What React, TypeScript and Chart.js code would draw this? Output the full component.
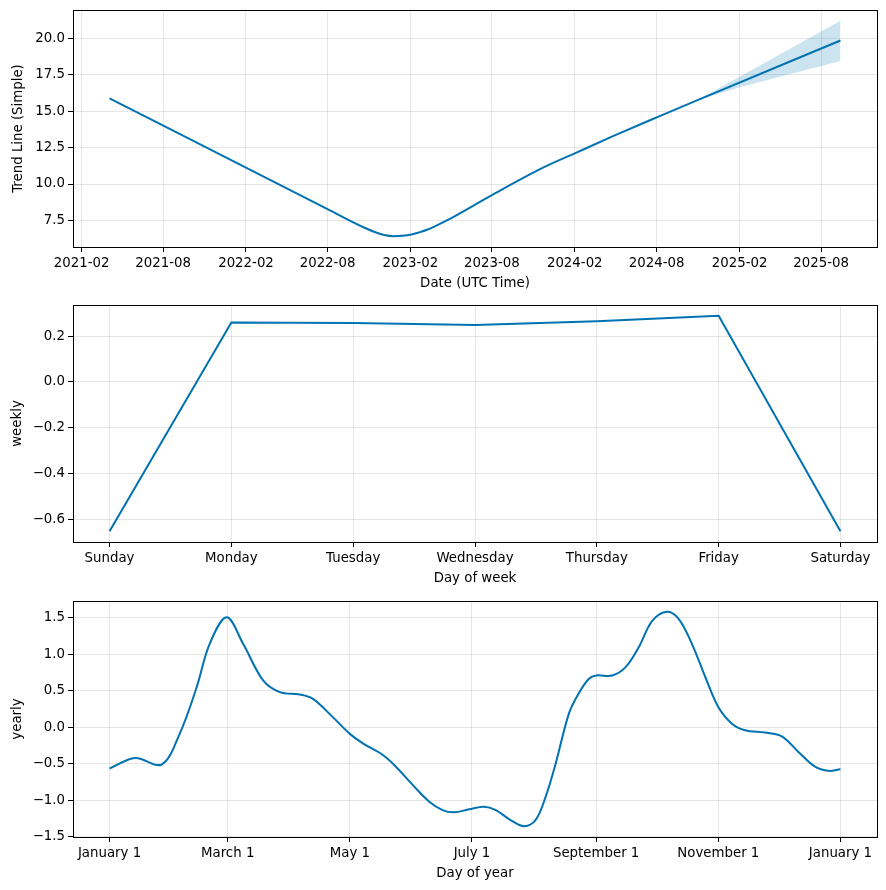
import React, { useEffect, useRef } from 'react';
import { Chart, registerables } from 'chart.js';

Chart.register(...registerables);

// ---------- data ----------
const trendDates = [
  '2021-04-04', '2022-07-31', '2022-10-21', '2022-11-20', '2022-12-05', '2022-12-26',
  '2023-01-15', '2023-02-01', '2023-02-20', '2023-03-10', '2023-03-25', '2023-04-23',
  '2023-08-01', '2023-11-16', '2024-02-01', '2024-04-26', '2024-08-01', '2024-10-28',
  '2025-09-13',
];
const trendValues = [
  15.87, 8.30, 7.02, 6.64, 6.50, 6.42,
  6.45, 6.52, 6.68, 6.86, 7.06, 7.50,
  9.24, 11.02, 12.10, 13.28, 14.57, 15.72,
  19.84,
];
const bandDates = ['2024-10-28', '2025-02-01', '2025-09-13'];
const bandUpper = [15.72, 17.36, 21.19];
const bandLower = [15.72, 16.63, 18.44];
const trendTickDates = ['2021-02-01', '2021-08-01', '2022-02-01', '2022-08-01', '2023-02-01',
  '2023-08-01', '2024-02-01', '2024-08-01', '2025-02-01', '2025-08-01'];
const trendYTicks = [7.5, 10, 12.5, 15, 17.5, 20];

const weekDays = ['Sunday', 'Monday', 'Tuesday', 'Wednesday', 'Thursday', 'Friday', 'Saturday'];
const weeklyValues = [-0.653, 0.26, 0.257, 0.249, 0.265, 0.289, -0.653];
const weeklyYTicks = [-0.6, -0.4, -0.2, 0, 0.2];

const yearDays = [0, 12.8, 26, 35, 43.5, 50, 58.5, 66.7, 76.7, 85, 95, 101.6, 111.5, 120,
  126.5, 136.5, 143, 151.4, 159.7, 166.3, 172, 179.6, 187, 192.9, 199.5, 207, 212.8, 217.8,
  222.8, 229.4, 234.4, 239.4, 243, 251, 257.7, 264.3, 271, 278.4, 284.2, 290.8, 297.5, 304,
  310.8, 317.4, 327.4, 335.7, 344, 352.3, 359, 365];
const yearlyValues = [-0.565, -0.42, -0.51, -0.09, 0.55, 1.145, 1.51, 1.145, 0.643, 0.483, 0.45,
  0.39, 0.14, -0.09, -0.22, -0.38, -0.54, -0.79, -1.02, -1.135, -1.166, -1.125, -1.09, -1.135,
  -1.258, -1.357, -1.27, -0.95, -0.496, 0.188, 0.47, 0.666, 0.711, 0.71, 0.825, 1.1, 1.46,
  1.585, 1.486, 1.145, 0.69, 0.278, 0.05, -0.04, -0.072, -0.123, -0.337, -0.54, -0.597, -0.574];
const yearTickDays = [0, 59, 120, 181, 243, 304, 365];
const yearTickLabels = ['January 1', 'March 1', 'May 1', 'July 1', 'September 1', 'November 1', 'January 1'];
const yearlyYTicks = [-1.5, -1, -0.5, 0, 0.5, 1, 1.5];

// ---------- style ----------
const LINE = '#0072B2';
const BAND = 'rgba(0,114,178,0.2)';
const FONT = { family: 'DejaVu Sans', size: 13.33 };
const GRID = 'rgba(128,128,128,0.2)';
const W = 886;

const toMs = (s: string) => new Date(s).getTime();
const pad = (lo: number, hi: number) => {
  const m = (hi - lo) * 0.05;
  return [lo - m, hi + m];
};
const fmt = (v: number, d: number) => {
  const s = Math.abs(v).toFixed(d);
  return v < -1e-9 ? '\u2212' + s : s;
};

const framePlugin = {
  id: 'frame',
  afterDraw(chart: any) {
    const { ctx, chartArea: a } = chart;
    ctx.save();
    ctx.strokeStyle = '#000';
    ctx.lineWidth = 1;
    ctx.strokeRect(a.left + 0.5, a.top + 0.5, a.right - a.left, a.bottom - a.top);
    ctx.restore();
  },
};

function axisX(opts: any) {
  const { min, max, ticks, label, height, titlePad, cb } = opts;
  return {
    type: 'linear',
    min,
    max,
    afterBuildTicks: (s: any) => { s.ticks = ticks.map((v: number) => ({ value: v })); },
    afterFit: (s: any) => { s.height = height; s.paddingLeft = 0; s.paddingRight = 0; },
    grid: { color: GRID, lineWidth: 1, tickColor: '#000', tickLength: 5, drawTicks: true },
    border: { display: false },
    ticks: { font: FONT, color: '#000', padding: 4, maxRotation: 0, autoSkip: false, callback: cb },
    title: { display: true, text: label, font: FONT, color: '#000', padding: { top: 0, bottom: titlePad } },
  };
}

function axisY(opts: any) {
  const { min, max, ticks, label, titlePad, dec } = opts;
  return {
    type: 'linear',
    min,
    max,
    afterBuildTicks: (s: any) => { s.ticks = ticks.map((v: number) => ({ value: v })); },
    afterFit: (s: any) => { s.width = 73; s.paddingTop = 0; s.paddingBottom = 0; },
    grid: { color: GRID, lineWidth: 1, tickColor: '#000', tickLength: 5, drawTicks: true },
    border: { display: false },
    ticks: { font: FONT, color: '#000', padding: 3, autoSkip: false, callback: (v: number) => fmt(v, dec) },
    title: { display: true, text: label, font: FONT, color: '#000', padding: { top: titlePad, bottom: 0 } },
  };
}

function baseOptions(padTop: number, scales: any) {
  return {
    responsive: false,
    animation: false,
    devicePixelRatio: 1,
    layout: { padding: { top: padTop, right: 9, left: 0, bottom: 0 } },
    plugins: { legend: { display: false }, tooltip: { enabled: false } },
    scales,
  };
}

function trendConfig() {
  const xs = trendDates.map(toMs);
  const [xmin, xmax] = pad(xs[0], xs[xs.length - 1]);
  const [ymin, ymax] = pad(Math.min(...trendValues, ...bandLower), Math.max(...trendValues, ...bandUpper));
  const bx = bandDates.map(toMs);
  return {
    type: 'line',
    data: {
      datasets: [
        {
          data: xs.map((x, i) => ({ x, y: trendValues[i] })),
          borderColor: LINE, borderWidth: 2, pointRadius: 0, cubicInterpolationMode: 'monotone', fill: false,
        },
        {
          data: bx.map((x, i) => ({ x, y: bandUpper[i] })),
          borderWidth: 0, borderColor: 'rgba(0,0,0,0)', backgroundColor: BAND, pointRadius: 0, fill: '+1',
        },
        {
          data: bx.map((x, i) => ({ x, y: bandLower[i] })),
          borderWidth: 0, borderColor: 'rgba(0,0,0,0)', pointRadius: 0, fill: false,
        },
      ],
    },
    options: baseOptions(10, {
      x: axisX({
        min: xmin, max: xmax, ticks: trendTickDates.map(toMs), label: 'Date (UTC Time)', height: 51, titlePad: 6,
        cb: (v: number) => new Date(v).toISOString().slice(0, 7),
      }),
      y: axisY({ min: ymin, max: ymax, ticks: trendYTicks, label: 'Trend Line (Simple)', titlePad: 11, dec: 1 }),
    }),
    plugins: [framePlugin],
  };
}

function weeklyConfig() {
  const idx = weekDays.map((_, i) => i);
  const [xmin, xmax] = pad(0, weekDays.length - 1);
  const [ymin, ymax] = pad(Math.min(...weeklyValues), Math.max(...weeklyValues));
  return {
    type: 'line',
    data: {
      datasets: [{
        data: idx.map((x) => ({ x, y: weeklyValues[x] })),
        borderColor: LINE, borderWidth: 2, pointRadius: 0, tension: 0, fill: false,
      }],
    },
    options: baseOptions(7, {
      x: axisX({
        min: xmin, max: xmax, ticks: idx, label: 'Day of week', height: 54, titlePad: 9,
        cb: (v: number) => weekDays[Math.round(v)],
      }),
      y: axisY({ min: ymin, max: ymax, ticks: weeklyYTicks, label: 'weekly', titlePad: 9.5, dec: 1 }),
    }),
    plugins: [framePlugin],
  };
}

function yearlyConfig() {
  const [xmin, xmax] = pad(yearDays[0], yearDays[yearDays.length - 1]);
  const [ymin, ymax] = pad(Math.min(...yearlyValues), Math.max(...yearlyValues));
  return {
    type: 'line',
    data: {
      datasets: [{
        data: yearDays.map((x, i) => ({ x, y: yearlyValues[i] })),
        borderColor: LINE, borderWidth: 2, pointRadius: 0, tension: 0.35, fill: false,
      }],
    },
    options: baseOptions(5, {
      x: axisX({
        min: xmin, max: xmax, ticks: yearTickDays, label: 'Day of year', height: 53, titlePad: 8,
        cb: (_v: number, i: number) => yearTickLabels[i],
      }),
      y: axisY({ min: ymin, max: ymax, ticks: yearlyYTicks, label: 'yearly', titlePad: 9.5, dec: 1 }),
    }),
    plugins: [framePlugin],
  };
}

function Panel({ top, height, make }: { top: number; height: number; make: () => any }) {
  const ref = useRef<HTMLCanvasElement | null>(null);
  useEffect(() => {
    if (!ref.current) return;
    const chart = new Chart(ref.current, make());
    return () => chart.destroy();
  }, [make]);
  return (
    <canvas
      ref={ref}
      width={W}
      height={height}
      style={{ position: 'absolute', left: 0, top, width: W, height }}
    />
  );
}

export default function App() {
  return (
    <div style={{ position: 'absolute', left: 0, top: 0, width: W, height: 890, background: '#fff' }}>
      <Panel top={0} height={298} make={trendConfig} />
      <Panel top={298} height={298} make={weeklyConfig} />
      <Panel top={596} height={294} make={yearlyConfig} />
    </div>
  );
}
